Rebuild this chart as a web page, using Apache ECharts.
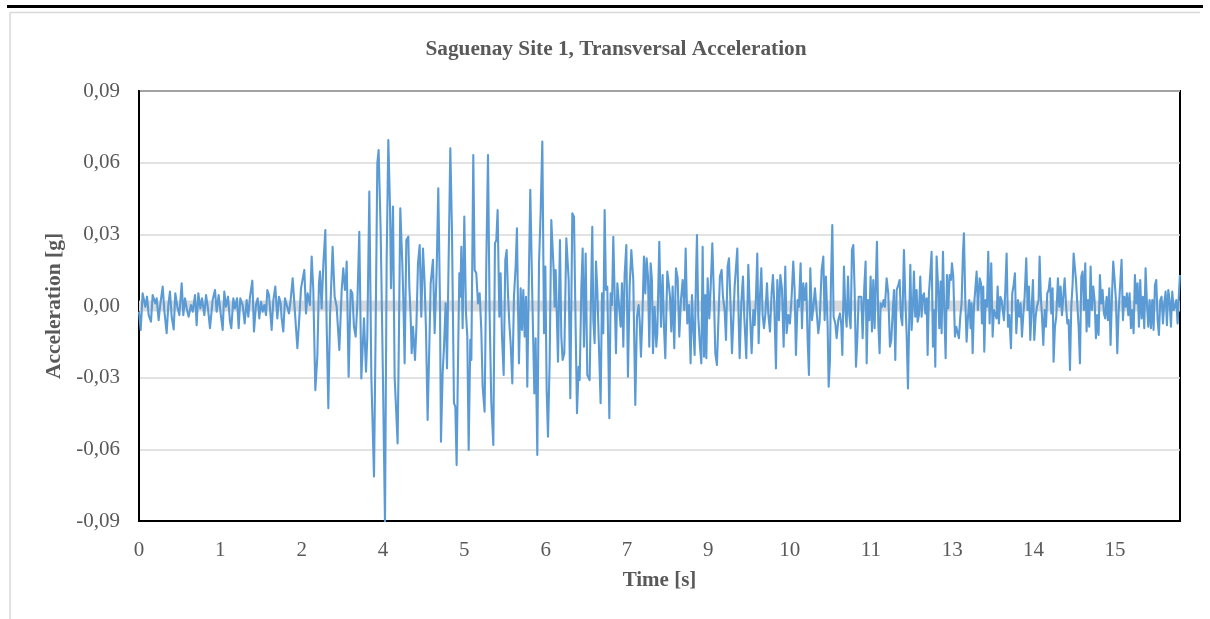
<!DOCTYPE html>
<html>
<head>
<meta charset="utf-8">
<script src="https://cdn.jsdelivr.net/npm/echarts@6/dist/echarts.min.js"></script>
<style>
html,body{margin:0;padding:0;background:#fff;}
#chart{width:1210px;height:619px;}
</style>
</head>
<body>
<div id="chart"></div>
<script>
// ---- data ----
const chartTitle = 'Saguenay Site 1, Transversal Acceleration';
const xAxisName = 'Time [s]';
const yAxisName = 'Acceleration [g]';
const xTickStep = 1.25;
const xTickLabels = ['0','1','2','4','5','6','7','9','10','11','13','14','15'];
const yTickLabels = ['-0,09','-0,06','-0,03','0,00','0,03','0,06','0,09'];
const zeroBand = [[0, 0], [16, 0]];

const timeS = [
0.000,0.026,0.056,0.097,0.123,0.149,0.184,0.210,0.251,0.272,0.302,0.323,0.364,0.389,0.425,0.451,0.476,0.502,0.533,0.558,
0.589,0.620,0.656,0.681,0.707,0.733,0.763,0.799,0.825,0.861,0.886,0.912,0.943,0.968,1.004,1.030,1.060,1.091,1.132,1.168,
1.194,1.224,1.255,1.286,1.311,1.337,1.368,1.399,1.419,1.450,1.475,1.506,1.532,1.557,
1.583,1.593,1.624,1.655,1.680,1.706,1.742,1.767,1.798,1.824,1.849,1.875,1.901,1.926,1.952,1.972,1.998,2.039,2.065,2.095,
2.126,2.152,2.177,2.193,2.218,2.244,2.270,2.305,2.331,2.362,2.398,2.434,2.459,2.490,2.515,2.541,2.567,2.592,2.628,2.654,
2.679,2.710,2.741,2.766,2.782,2.807,2.833,2.864,2.884,2.910,2.936,2.976,3.007,3.038,3.079,3.115,3.140,3.166,
3.176,3.192,3.222,3.253,3.279,3.304,3.330,3.356,3.386,3.417,3.458,3.489,3.509,3.540,3.571,3.612,3.637,3.663,3.683,3.714,
3.750,3.781,3.806,3.832,3.858,3.873,3.904,3.929,3.955,3.975,3.996,4.016,4.047,4.062,4.083,4.109,4.139,4.155,4.175,4.191,
4.211,4.242,4.262,4.288,4.314,4.339,4.365,4.390,4.411,4.436,4.462,4.483,4.518,4.544,4.575,4.600,4.626,4.641,4.667,4.688,
4.713,4.734,
4.785,4.810,4.841,4.862,4.882,4.903,4.923,4.939,4.954,4.974,5.000,5.026,5.046,5.067,5.092,5.108,5.138,5.159,5.184,5.210,
5.236,5.261,5.282,5.312,5.338,5.364,5.389,5.415,5.446,5.471,5.492,5.512,5.538,5.558,5.579,5.605,5.630,5.651,5.671,5.692,
5.712,5.738,5.763,5.789,5.809,5.825,5.840,5.866,5.886,5.907,5.927,5.948,5.968,5.994,6.014,6.040,6.061,6.076,6.096,6.122,
6.148,6.173,6.199,6.225,6.245,6.266,6.286,6.312,6.337,
6.373,6.388,6.404,6.440,6.470,6.491,6.511,6.537,6.568,6.604,6.629,6.660,6.686,6.706,6.732,6.757,6.773,6.798,6.819,6.839,
6.865,6.890,6.911,6.926,6.947,6.967,6.983,7.003,7.024,7.044,7.065,7.095,7.116,7.136,7.157,7.177,7.198,7.229,7.249,7.270,
7.290,7.310,7.331,7.352,7.377,7.403,7.423,7.444,7.464,7.490,7.515,7.541,7.567,7.597,7.628,7.654,7.679,7.695,7.715,7.736,
7.761,7.782,7.802,7.823,7.843,7.864,7.884,7.900,7.925,7.951,
7.966,7.997,8.023,8.048,8.069,8.089,8.120,8.141,8.161,8.181,8.202,8.227,8.253,8.279,8.304,8.330,8.356,8.381,8.402,8.427,
8.453,8.478,8.499,8.520,8.540,8.561,8.576,8.596,8.622,8.643,8.663,8.684,8.704,8.720,8.740,8.766,8.786,8.812,8.837,8.858,
8.883,8.909,8.929,8.955,8.975,9.001,9.022,9.047,9.068,9.093,9.114,9.135,9.155,9.175,9.196,9.216,9.232,9.257,9.283,9.303,
9.334,9.365,9.391,9.416,9.442,9.462,9.483,9.503,9.524,9.544,9.565,
9.585,9.606,9.626,9.652,9.672,9.698,9.723,9.744,9.764,9.790,9.811,9.836,9.857,9.882,9.908,9.933,9.954,9.980,10.005,10.031,
10.056,10.077,10.097,10.123,10.143,10.169,10.190,10.210,10.231,10.256,10.277,10.297,10.318,10.343,10.364,10.389,10.415,10.441,10.461,10.492,
10.518,10.538,10.558,10.584,10.600,10.620,10.635,10.656,10.676,10.702,10.723,10.748,10.774,10.794,10.810,10.835,10.856,10.876,10.897,10.917,
10.938,10.958,10.979,10.999,11.020,11.040,11.061,11.081,11.102,11.122,11.148,11.168,
11.184,11.204,11.225,11.245,11.265,11.286,11.306,11.322,11.342,11.363,11.383,11.399,11.424,11.445,11.465,11.491,11.516,11.542,11.563,11.583,
11.604,11.624,11.645,11.670,11.691,11.711,11.732,11.757,11.778,11.798,11.819,11.839,11.855,11.875,11.896,11.911,11.931,11.952,11.967,11.988,
12.008,12.029,12.044,12.065,12.085,12.106,12.121,12.141,12.162,12.182,12.203,12.223,12.239,12.259,12.280,12.300,12.321,12.336,12.357,12.377,
12.398,12.418,12.439,12.459,12.480,12.495,12.515,12.541,12.561,12.582,12.602,12.623,12.643,12.664,12.679,12.700,12.720,12.741,12.761,
12.782,12.797,12.813,12.833,12.853,12.874,12.894,12.920,12.941,12.956,12.976,12.992,13.012,13.033,13.053,13.074,13.099,13.120,13.140,13.161,
13.181,13.197,13.217,13.238,13.258,13.279,13.294,13.315,13.335,13.356,13.376,13.402,13.422,13.443,13.463,13.484,13.509,13.530,13.550,13.571,
13.591,13.612,13.637,13.658,13.678,13.699,13.719,13.740,13.760,13.781,13.801,13.827,13.842,13.863,13.878,13.899,13.919,13.940,13.960,13.981,
14.001,14.022,14.042,14.057,14.078,14.098,14.124,14.145,14.165,14.186,14.206,14.227,14.247,14.268,14.288,14.309,14.329,14.350,14.365,
14.380,14.401,14.421,14.442,14.462,14.483,14.503,14.524,14.544,14.564,14.585,14.605,14.626,14.646,14.667,14.687,14.708,14.728,14.749,14.769,
14.790,14.810,14.831,14.851,14.872,14.892,14.913,14.933,14.954,14.974,14.995,15.015,15.036,15.056,15.077,15.102,15.123,15.143,15.164,15.184,
15.205,15.225,15.246,15.266,15.287,15.307,15.328,15.348,15.369,15.389,15.410,15.430,15.451,15.471,15.492,15.512,15.533,15.553,15.574,15.594,
15.615,15.635,15.656,15.676,15.697,15.717,15.738,15.758,15.779,15.799,15.820,15.840,15.861,15.881,15.902,15.922,15.943,15.963,15.984,15.999
];

const accelG = [
-0.0024,-0.0100,0.0053,-0.0003,0.0039,-0.0038,-0.0066,0.0046,0.0011,0.0032,-0.0059,-0.0003,0.0081,-0.0017,-0.0114,0.0004,0.0060,-0.0045,-0.0098,0.0053,
-0.0003,-0.0038,0.0095,-0.0038,0.0032,-0.0010,-0.0045,0.0004,-0.0024,0.0046,-0.0080,0.0053,-0.0010,0.0032,-0.0038,0.0046,-0.0010,-0.0093,0.0025,0.0067,
-0.0024,0.0046,-0.0031,-0.0100,0.0060,-0.0003,0.0039,-0.0066,-0.0093,0.0032,-0.0010,0.0032,-0.0093,0.0032,
0.0039,0.0004,-0.0073,0.0025,-0.0045,0.0039,0.0106,-0.0107,0.0004,0.0032,-0.0052,0.0018,-0.0024,0.0004,-0.0038,0.0067,0.0046,-0.0100,0.0025,0.0081,
-0.0052,0.0039,0.0011,-0.0052,-0.0107,0.0032,0.0004,-0.0031,0.0025,0.0116,-0.0031,-0.0177,-0.0073,0.0074,0.0074,0.0151,-0.0031,0.0053,0.0004,0.0207,
0.0067,-0.0352,-0.0212,0.0095,0.0144,-0.0010,0.0172,0.0318,-0.0073,-0.0428,-0.0045,0.0248,0.0039,-0.0003,-0.0184,0.0067,0.0158,0.0067,
0.0081,0.0186,-0.0296,0.0067,0.0053,-0.0087,-0.0128,0.0011,0.0311,-0.0303,-0.0052,-0.0275,-0.0128,0.0479,-0.0296,-0.0714,-0.0100,0.0597,0.0653,0.0318,
-0.0310,-0.0910,0.0179,0.0695,0.0416,0.0074,0.0416,-0.0296,-0.0289,-0.0575,-0.0100,0.0409,0.0179,0.0039,-0.0240,0.0276,0.0290,0.0081,-0.0045,-0.0198,
-0.0087,-0.0226,-0.0100,0.0179,0.0255,-0.0045,0.0241,0.0095,-0.0100,-0.0477,-0.0170,0.0095,0.0193,-0.0114,0.0151,0.0493,0.0011,-0.0568,-0.0282,-0.0170,
0.0011,-0.0261,
0.0660,0.0318,-0.0407,-0.0421,-0.0666,-0.0240,0.0137,0.0039,0.0248,-0.0093,0.0374,-0.0031,-0.0128,-0.0603,-0.0142,-0.0226,0.0632,0.0151,0.0137,0.0011,
0.0053,-0.0100,-0.0338,-0.0442,0.0179,0.0632,-0.0031,-0.0407,-0.0582,0.0262,0.0276,0.0402,-0.0045,0.0137,-0.0128,-0.0289,0.0193,0.0234,0.0053,-0.0073,
-0.0156,-0.0324,0.0039,0.0165,0.0325,0.0011,-0.0240,0.0074,-0.0100,0.0067,-0.0128,0.0039,-0.0338,0.0151,0.0486,0.0109,0.0109,-0.0366,-0.0135,-0.0624,
0.0179,0.0388,0.0688,-0.0114,0.0165,-0.0352,-0.0547,-0.0226,0.0360,
0.0151,-0.0003,0.0151,-0.0233,0.0276,-0.0128,-0.0226,-0.0198,0.0283,0.0109,-0.0386,0.0388,0.0374,-0.0003,-0.0449,-0.0254,-0.0310,0.0067,0.0241,-0.0170,
0.0220,-0.0289,-0.0296,-0.0310,0.0039,0.0332,-0.0059,-0.0156,0.0186,0.0067,0.0067,-0.0407,0.0053,-0.0114,0.0402,0.0067,0.0081,-0.0470,0.0053,0.0004,
0.0290,0.0053,-0.0198,0.0095,0.0088,-0.0087,0.0095,-0.0170,0.0130,0.0255,-0.0296,0.0081,0.0234,0.0109,-0.0414,-0.0045,0.0004,-0.0059,-0.0212,-0.0059,
0.0207,0.0053,0.0200,0.0123,-0.0170,0.0179,0.0109,-0.0198,-0.0003,-0.0170,
-0.0114,0.0269,-0.0087,0.0130,-0.0087,-0.0219,0.0144,0.0095,0.0039,-0.0107,0.0081,-0.0177,0.0158,0.0116,-0.0128,0.0025,0.0109,-0.0017,0.0241,-0.0073,
0.0004,-0.0240,0.0046,-0.0100,-0.0205,0.0123,0.0297,-0.0045,-0.0170,-0.0240,0.0248,-0.0212,0.0046,-0.0219,0.0116,-0.0052,0.0074,0.0262,0.0039,-0.0198,
-0.0247,-0.0031,0.0123,0.0151,0.0039,-0.0017,-0.0142,0.0165,0.0200,-0.0003,-0.0198,-0.0059,0.0081,0.0074,0.0241,-0.0045,-0.0219,0.0011,0.0123,-0.0045,
-0.0219,0.0172,-0.0031,-0.0198,-0.0017,-0.0080,0.0039,0.0220,-0.0156,0.0039,0.0158,
-0.0038,-0.0093,-0.0038,0.0095,-0.0031,-0.0107,0.0053,0.0130,0.0011,-0.0261,0.0109,-0.0059,0.0130,0.0074,-0.0170,0.0165,-0.0114,-0.0038,-0.0073,0.0039,
0.0186,0.0067,-0.0205,0.0025,-0.0003,0.0179,-0.0093,0.0095,0.0025,0.0095,-0.0142,-0.0289,0.0158,-0.0059,-0.0010,0.0074,0.0067,-0.0114,-0.0066,0.0151,
0.0207,-0.0059,0.0123,-0.0080,-0.0338,-0.0226,0.0095,0.0339,-0.0045,-0.0073,-0.0135,-0.0059,-0.0031,-0.0080,-0.0205,0.0165,-0.0017,-0.0087,0.0123,-0.0038,
-0.0093,0.0234,0.0255,0.0067,-0.0254,-0.0142,0.0039,0.0046,0.0039,-0.0135,0.0081,0.0186,
-0.0240,0.0025,-0.0059,0.0123,-0.0107,0.0109,-0.0093,-0.0100,0.0269,-0.0073,-0.0198,0.0011,-0.0003,0.0025,-0.0003,0.0116,0.0053,-0.0170,-0.0142,-0.0031,
0.0067,-0.0226,0.0067,0.0088,0.0109,-0.0045,-0.0080,0.0234,0.0032,-0.0114,-0.0345,-0.0045,0.0172,-0.0100,0.0011,0.0144,-0.0045,0.0067,-0.0066,-0.0038,
0.0123,-0.0045,0.0039,0.0053,-0.0031,0.0032,-0.0205,0.0053,0.0137,0.0227,-0.0170,-0.0017,-0.0254,0.0207,0.0095,-0.0093,0.0102,-0.0114,0.0227,-0.0017,
-0.0219,0.0130,-0.0010,0.0130,0.0109,0.0179,0.0123,-0.0128,-0.0087,-0.0087,-0.0135,-0.0045,0.0011,0.0220,0.0304,0.0025,-0.0149,-0.0045,0.0025,
-0.0093,0.0011,-0.0198,-0.0003,0.0067,0.0144,-0.0017,0.0116,0.0095,-0.0073,0.0081,-0.0191,0.0025,-0.0003,0.0227,-0.0073,0.0179,-0.0128,-0.0017,-0.0024,
-0.0052,0.0081,-0.0073,0.0039,0.0025,0.0032,-0.0059,0.0067,0.0220,-0.0087,-0.0038,-0.0177,0.0053,0.0088,0.0137,-0.0114,0.0025,-0.0045,0.0011,-0.0128,
-0.0038,0.0039,0.0200,-0.0017,0.0081,-0.0142,-0.0017,0.0109,-0.0142,-0.0045,-0.0003,0.0025,0.0207,0.0025,-0.0038,-0.0163,-0.0017,-0.0087,0.0053,0.0067,
0.0116,-0.0031,0.0074,-0.0233,-0.0087,-0.0045,0.0116,-0.0003,0.0081,-0.0038,-0.0045,0.0116,0.0011,-0.0073,-0.0059,-0.0268,-0.0003,0.0095,0.0220,
0.0220,0.0109,0.0011,-0.0087,-0.0240,0.0123,0.0144,-0.0017,0.0179,-0.0107,0.0025,-0.0087,0.0165,-0.0017,0.0081,0.0025,-0.0135,-0.0038,-0.0121,0.0130,
0.0011,0.0067,-0.0031,-0.0052,0.0039,-0.0059,0.0074,-0.0163,0.0039,0.0186,0.0109,0.0025,-0.0198,-0.0031,0.0074,0.0193,-0.0059,0.0039,-0.0003,0.0053,
-0.0038,0.0053,-0.0093,-0.0017,-0.0114,0.0130,0.0011,0.0095,-0.0087,0.0109,-0.0052,0.0039,-0.0093,0.0158,0.0011,-0.0087,0.0025,-0.0093,0.0025,-0.0100,
0.0088,0.0109,-0.0059,-0.0121,0.0025,0.0039,-0.0073,0.0011,0.0060,-0.0080,0.0067,0.0025,-0.0087,0.0060,-0.0017,-0.0003,0.0025,-0.0073,0.0053,0.0130
];

// ---- chart ----
const seriesData = timeS.map((t, i) => [t, accelG[i]]);
const serif = "'Liberation Serif','Times New Roman',serif";
const textGray = '#595959';

const chart = echarts.init(document.getElementById('chart'), null, {renderer: 'canvas'});
chart.setOption({
  animation: false,
  backgroundColor: '#fff',
  title: {
    text: chartTitle,
    left: 611,
    top: 34,
    textAlign: 'center',
    textStyle: {fontFamily: serif, fontSize: 21.3, fontWeight: 'bold', color: textGray}
  },
  graphic: [
    {type: 'rect', shape: {x: 7, y: 5, width: 1196, height: 3}, style: {fill: '#000'}, silent: true},
    {type: 'line', shape: {x1: 10, y1: 12.5, x2: 1200, y2: 12.5}, style: {stroke: '#d9d9d9', lineWidth: 1.5}, silent: true},
    {type: 'line', shape: {x1: 10, y1: 12.5, x2: 10, y2: 619}, style: {stroke: '#d9d9d9', lineWidth: 1.5}, silent: true}
  ],
  grid: {left: 139, top: 91, width: 1041, height: 430, show: true, borderColor: '#000', borderWidth: 2, backgroundColor: 'transparent'},
  xAxis: {
    type: 'value', min: 0, max: 16, interval: xTickStep,
    name: xAxisName, nameLocation: 'middle', nameGap: 49,
    nameTextStyle: {fontFamily: serif, fontSize: 21, fontWeight: 'bold', color: textGray},
    axisLine: {show: true, onZero: false, lineStyle: {color: '#000', width: 2}},
    axisTick: {show: false},
    splitLine: {show: false},
    axisLabel: {
      fontFamily: serif, fontSize: 21, color: textGray, margin: 19,
      showMaxLabel: false,
      formatter: function (v) {
        const k = v / xTickStep;
        const r = Math.round(k);
        if (Math.abs(k - r) > 1e-6) return '';
        return xTickLabels[r] !== undefined ? xTickLabels[r] : '';
      }
    }
  },
  yAxis: {
    type: 'value', min: -0.09, max: 0.09, interval: 0.03,
    name: yAxisName, nameLocation: 'middle', nameGap: 67, nameRotate: 90,
    nameTextStyle: {fontFamily: serif, fontSize: 21.5, fontWeight: 'bold', color: textGray},
    axisLine: {show: true, lineStyle: {color: '#000', width: 2}},
    axisTick: {show: false},
    splitLine: {show: true, lineStyle: {color: '#d9d9d9', width: 1.5}},
    axisLabel: {
      fontFamily: serif, fontSize: 21, color: textGray, margin: 19,
      formatter: function (v) {
        const idx = Math.round((v + 0.09) / 0.03);
        return yTickLabels[idx] !== undefined ? yTickLabels[idx] : '';
      }
    }
  },
  series: [
    {
      type: 'line', data: zeroBand, symbol: 'none', silent: true, z: 1,
      lineStyle: {color: '#d9d9d9', width: 11}
    },
    {
      type: 'line', data: seriesData, symbol: 'none', z: 3,
      lineStyle: {color: '#5b9bd5', width: 2.1, join: 'round'},
      clip: true
    }
  ]
});
</script>
</body>
</html>
